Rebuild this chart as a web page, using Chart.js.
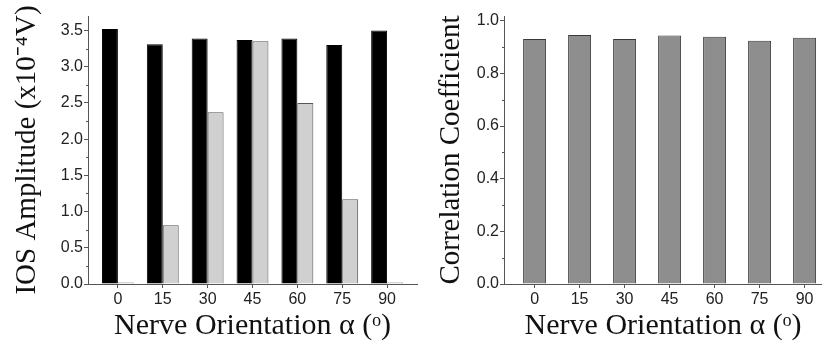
<!DOCTYPE html>
<html>
<head>
<meta charset="utf-8">
<script src="https://cdn.jsdelivr.net/npm/chart.js@4/dist/chart.umd.min.js"></script>
<style>
  html, body { margin: 0; padding: 0; background: #fff; }
  #left { position: absolute; left: 0; top: 0; width: 420px; height: 346px; }
  #right { position: absolute; left: 422px; top: 0; width: 400px; height: 346px; }
</style>
</head>
<body>
<div id="left"><canvas id="iosChart"></canvas></div>
<div id="right"><canvas id="corrChart"></canvas></div>
<script>
// nerve orientation (degrees)
const angles = [0, 15, 30, 45, 60, 75, 90];
// IOS amplitude, x10^-4 V
const iosBlack = [3.52, 3.31, 3.39, 3.37, 3.39, 3.30, 3.50];
const iosGray = [0.02, 0.81, 2.37, 3.35, 2.50, 1.17, 0.02];
// correlation coefficient
const corr = [0.931, 0.946, 0.931, 0.944, 0.939, 0.924, 0.935];

const iosTicks = [0, 0.5, 1.0, 1.5, 2.0, 2.5, 3.0, 3.5];
const iosMinor = [0.25, 0.75, 1.25, 1.75, 2.25, 2.75, 3.25];
const corrTicks = [0, 0.2, 0.4, 0.6, 0.8, 1.0];
const corrMinor = [0.1, 0.3, 0.5, 0.7, 0.9];

const axisColor = '#555';
const tickFont = { family: 'Liberation Sans', size: 16 };

function pts(vals) {
    return angles.map((a, i) => ({ x: a, y: vals[i] }));
}

// short minor ticks on the y axis
const minorTicks = {
    id: 'minorTicks',
    afterDraw(chart, args, opts) {
        const y = chart.scales.y;
        const ctx = chart.ctx;
        ctx.save();
        ctx.strokeStyle = axisColor;
        ctx.lineWidth = 1;
        opts.values.forEach(v => {
            const py = Math.round(y.getPixelForValue(v)) + 0.5;
            ctx.beginPath();
            ctx.moveTo(y.right - 2, py);
            ctx.lineTo(y.right, py);
            ctx.stroke();
        });
        ctx.restore();
    }
};

function xScale(min, max) {
    return {
        type: 'linear',
        min: min,
        max: max,
        offset: false,
        afterBuildTicks: s => { s.ticks = angles.map(v => ({ value: v })); },
        afterFit: s => { s.height = 62; },
        grid: { offset: false, drawOnChartArea: false, tickLength: 4, color: axisColor },
        border: { color: axisColor },
        ticks: { font: tickFont, color: '#222', padding: 2, maxRotation: 0 },
        title: {
            display: true,
            text: 'Nerve Orientation α (ᵒ)',
            font: { family: 'Liberation Serif', size: 30, lineHeight: 1 },
            color: '#111',
            padding: { top: 0, bottom: 5 }
        }
    };
}

function yScale(max, tickVals, width, title, titlePad) {
    return {
        min: 0,
        max: max,
        afterBuildTicks: s => { s.ticks = tickVals.map(v => ({ value: v })); },
        afterFit: s => { s.width = width; },
        grid: { drawOnChartArea: false, tickLength: 4, color: axisColor },
        border: { color: axisColor },
        ticks: {
            font: tickFont,
            color: '#222',
            padding: 1,
            callback: v => v.toFixed(1)
        },
        title: {
            display: true,
            text: title,
            font: { family: 'Liberation Serif', size: 29, lineHeight: 1 },
            color: '#111',
            padding: { top: titlePad, bottom: 0 }
        }
    };
}

new Chart(document.getElementById('iosChart'), {
    type: 'bar',
    data: {
        datasets: [{
            data: pts(iosBlack),
            backgroundColor: '#000',
            borderColor: '#000',
            borderWidth: 1,
            categoryPercentage: 0.711,
            barPercentage: 1
        }, {
            data: pts(iosGray),
            backgroundColor: '#d0d0d0',
            borderColor: '#555',
            borderWidth: 1,
            categoryPercentage: 0.711,
            barPercentage: 1
        }]
    },
    options: {
        responsive: true,
        maintainAspectRatio: false,
        animation: false,
        layout: { padding: { top: 16, right: 3, left: 0, bottom: 0 } },
        plugins: {
            legend: { display: false },
            tooltip: { enabled: false },
            minorTicks: { values: iosMinor }
        },
        scales: {
            x: xScale(-10, 100),
            y: yScale(3.7, iosTicks, 88, 'IOS Amplitude (x10⁻⁴V)', 13)
        }
    },
    plugins: [minorTicks]
});

new Chart(document.getElementById('corrChart'), {
    type: 'bar',
    data: {
        datasets: [{
            data: pts(corr),
            backgroundColor: '#8e8e8e',
            borderColor: '#3a3a3a',
            borderWidth: 1,
            categoryPercentage: 0.511,
            barPercentage: 1
        }]
    },
    options: {
        responsive: true,
        maintainAspectRatio: false,
        animation: false,
        layout: { padding: { top: 16, right: 0, left: 0, bottom: 0 } },
        plugins: {
            legend: { display: false },
            tooltip: { enabled: false },
            minorTicks: { values: corrMinor }
        },
        scales: {
            x: xScale(-10.2, 95.8),
            y: yScale(1.018, corrTicks, 82, 'Correlation Coefficient', 15)
        }
    },
    plugins: [minorTicks]
});
</script>
</body>
</html>
